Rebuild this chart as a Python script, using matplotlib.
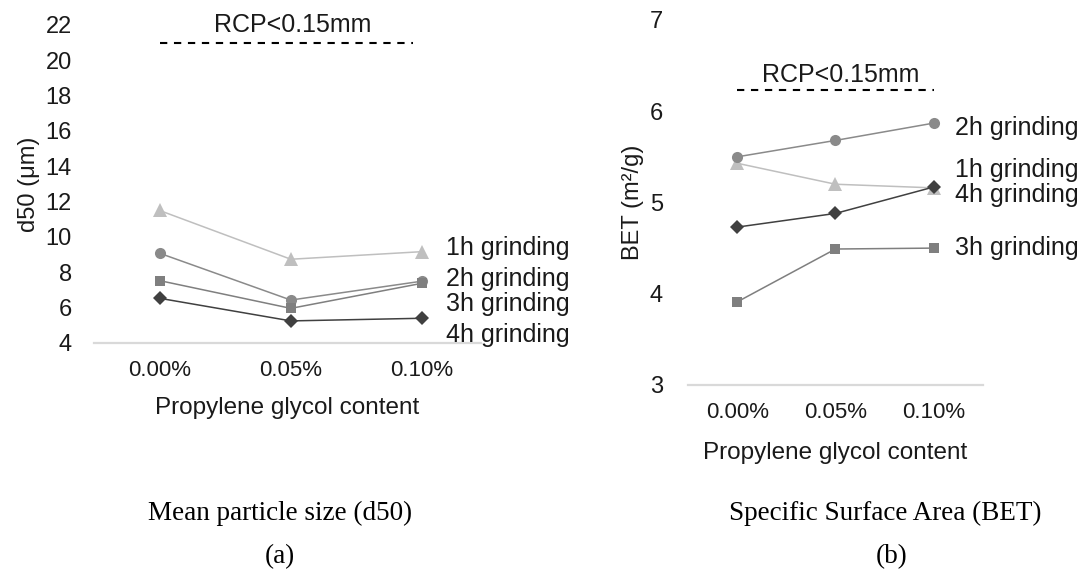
import numpy as np
import matplotlib.pyplot as plt

plt.rcParams['font.family'] = ['Liberation Sans', 'DejaVu Sans']

categories = ["0.00%", "0.05%", "0.10%"]
series_names = ["1h grinding", "2h grinding", "3h grinding", "4h grinding"]

# (a) mean particle size d50, um
d50_1h = [11.5, 8.74, 9.17]
d50_2h = [9.08, 6.43, 7.5]
d50_3h = [7.53, 5.96, 7.38]
d50_4h = [6.53, 5.25, 5.4]

# (b) BET surface area, m2/g
bet_1h = [5.43, 5.20, 5.16]
bet_2h = [5.50, 5.68, 5.87]
bet_3h = [3.91, 4.49, 4.50]
bet_4h = [4.73, 4.88, 5.17]

rcp_text = "RCP<0.15mm"

colors = {"1h grinding": "#bfbfbf", "2h grinding": "#8a8a8a",
          "3h grinding": "#7f7f7f", "4h grinding": "#404040"}
markers = {"1h grinding": ("^", 10), "2h grinding": ("o", 8),
           "3h grinding": ("s", 7.5), "4h grinding": ("D", 7)}
txt = "#1a1a1a"


def draw_panel(ax, data, ylim, yticks, ylabel, label_x, label_y, rcp_x, rcp_y, rcp_ty, ypad):
    x = np.arange(len(categories))
    for name in series_names:
        m, ms = markers[name]
        ax.plot(x, data[name], color=colors[name], lw=1.1, marker=m, ms=ms,
                markeredgewidth=0, zorder=3)
    for name in series_names:
        ax.text(label_x, label_y[name], name, fontsize=18, color=txt,
                va="center", ha="left", clip_on=False)
    ax.plot(rcp_x, [rcp_y, rcp_y], color="black", lw=1.5, ls=(0, (3.5, 3.2)), clip_on=False)
    ax.text(np.mean(rcp_x) + 0.05, rcp_ty, rcp_text, fontsize=18, color=txt,
            ha="center", va="center")
    ax.set_ylim(*ylim)
    ax.set_yticks(yticks)
    ax.set_xticks(x)
    ax.set_xticklabels(categories, fontsize=16, color=txt)
    ax.tick_params(axis="y", labelsize=17, colors=txt, length=0, pad=ypad)
    ax.tick_params(axis="x", length=0, pad=12)
    for s in ["top", "right", "left"]:
        ax.spines[s].set_visible(False)
    ax.spines["bottom"].set_color("#d9d9d9")
    ax.spines["bottom"].set_linewidth(1.6)
    ax.set_ylabel(ylabel, fontsize=17, color=txt)
    ax.set_xlabel("Propylene glycol content", fontsize=17.5, color=txt)


fig = plt.figure(figsize=(10.86, 5.69), dpi=100)

ax1 = fig.add_axes([0.0866, 0.3972, 0.3564, 0.5589])
ax1.set_xlim(-0.5, 2.45)
draw_panel(ax1,
           {"1h grinding": d50_1h, "2h grinding": d50_2h,
            "3h grinding": d50_3h, "4h grinding": d50_4h},
           (4, 22), np.arange(4, 23, 2), "d50 (μm)", 2.18,
           {"1h grinding": 9.38, "2h grinding": 7.62,
            "3h grinding": 6.2, "4h grinding": 4.45},
           [0, 1.93], 21.0, 22.0, 16)
ax1.xaxis.labelpad = 12

ax2 = fig.add_axes([0.6335, 0.3234, 0.2716, 0.6415])
ax2.set_xlim(-0.5, 2.5)
draw_panel(ax2,
           {"1h grinding": bet_1h, "2h grinding": bet_2h,
            "3h grinding": bet_3h, "4h grinding": bet_4h},
           (3, 7), np.arange(3, 8, 1), "BET (m²/g)", 2.22,
           {"1h grinding": 5.36, "2h grinding": 5.82,
            "3h grinding": 4.50, "4h grinding": 5.08},
           [0, 2.0], 6.23, 6.40, 18)
ax2.xaxis.labelpad = 14

serif = ['Liberation Serif', 'DejaVu Serif']
fig.text(280 / 1086, 1 - 513 / 569, "Mean particle size (d50)", family=serif,
         fontsize=19.5, ha="center", va="center", color="black")
fig.text(280 / 1086, 1 - 557 / 569, "(a)", family=serif,
         fontsize=19.5, ha="center", va="center", color="black")
fig.text(885 / 1086, 1 - 513 / 569, "Specific Surface Area (BET)", family=serif,
         fontsize=19.5, ha="center", va="center", color="black")
fig.text(892 / 1086, 1 - 557 / 569, "(b)", family=serif,
         fontsize=19.5, ha="center", va="center", color="black")

fig.savefig("out.png", dpi=100)
